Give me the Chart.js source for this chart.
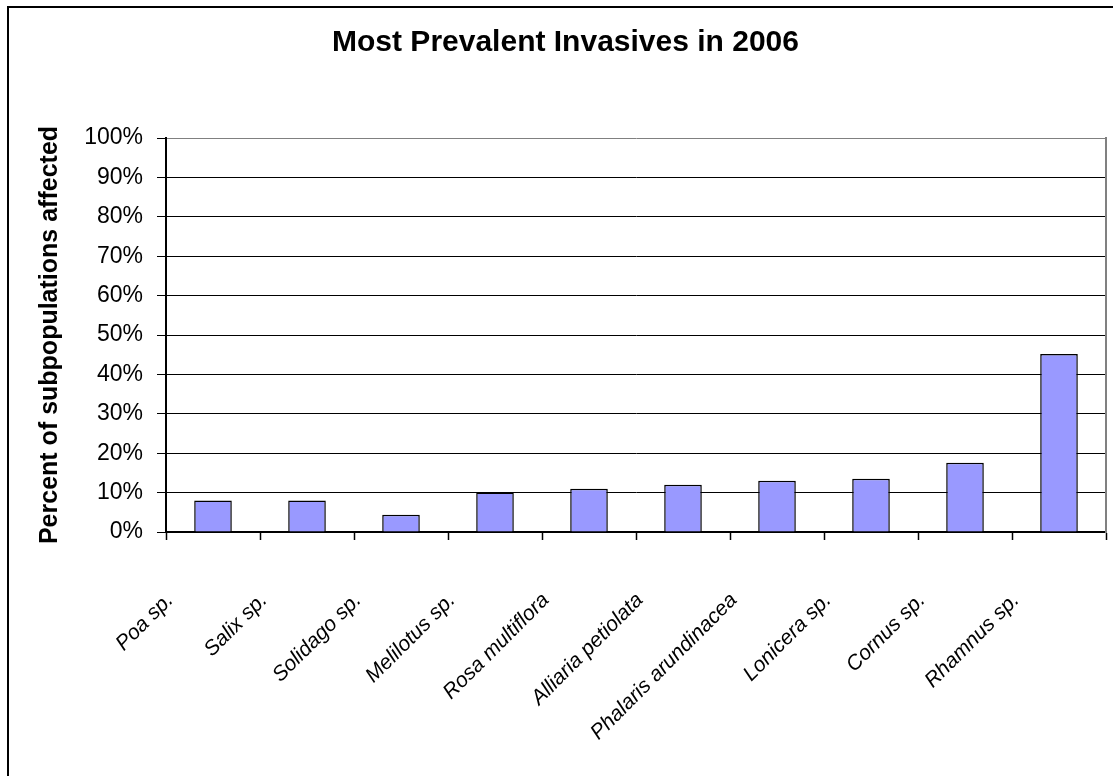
<!DOCTYPE html>
<html>
<head>
<meta charset="utf-8">
<title>Most Prevalent Invasives in 2006</title>
<script src="https://cdn.jsdelivr.net/npm/chart.js@4/dist/chart.umd.min.js"></script>
<style>
  html, body { margin: 0; padding: 0; background: #fff; }
  #wrap { width: 1113px; height: 776px; }
</style>
</head>
<body>
<div id="wrap"><canvas id="chart" width="1113" height="776"></canvas></div>
<script>
// Species most often recorded as invasive across subpopulations, 2006
const species = [
  'Poa sp.', 'Salix sp.', 'Solidago sp.', 'Melilotus sp.', 'Rosa multiflora',
  'Alliaria petiolata', 'Phalaris arundinacea', 'Lonicera sp.', 'Cornus sp.', 'Rhamnus sp.'
];
// Percent of subpopulations affected
const percentAffected = [8.0, 8.0, 4.4, 10.0, 11.0, 12.0, 13.0, 13.5, 17.6, 45.2];
// Value axis
const yMin = 0;
const yMax = 100;
const yStep = 10;

const FONT = "'Liberation Sans', Arial, Helvetica, sans-serif";
Chart.defaults.color = '#000';
Chart.defaults.font.family = FONT;

// Frame line along the top and left edges of the chart
const framePlugin = {
  id: 'frame',
  afterDraw(chart) {
    const ctx = chart.ctx;
    ctx.save();
    ctx.strokeStyle = '#000';
    ctx.lineWidth = 2;
    ctx.beginPath();
    ctx.moveTo(8, chart.height + 5);
    ctx.lineTo(8, 7);
    ctx.lineTo(chart.width + 5, 7);
    ctx.stroke();
    ctx.restore();
  }
};

new Chart(document.getElementById('chart'), {
  type: 'bar',
  data: {
    labels: species,
    datasets: [{
      data: percentAffected,
      backgroundColor: '#9999FF',
      borderColor: '#000',
      borderWidth: 1.5,
      barPercentage: 0.4,
      categoryPercentage: 1.0
    }]
  },
  options: {
    responsive: false,
    animation: false,
    events: [],
    layout: { padding: { left: 25, right: 7, top: 0, bottom: 0 } },
    plugins: {
      legend: { display: false },
      tooltip: { enabled: false },
      title: {
        display: true,
        text: 'Most Prevalent Invasives in 2006',
        color: '#000',
        font: { family: FONT, size: 30, weight: 'bold' },
        padding: { top: 25, bottom: 77 }
      }
    },
    scales: {
      x: {
        offset: true,
        grid: {
          offset: true,
          drawOnChartArea: false,
          drawTicks: true,
          tickLength: 8,
          tickWidth: 1.5,
          tickColor: '#000'
        },
        border: { display: true, color: '#000', width: 2 },
        ticks: {
          autoSkip: false,
          minRotation: 45,
          maxRotation: 45,
          labelOffset: -43,
          padding: 48,
          color: '#000',
          font: { family: FONT, size: 21, style: 'italic' }
        },
        afterFit(scale) {
          scale.height = 244;
          scale.paddingLeft = 0;
          scale.paddingRight = 0;
        }
      },
      y: {
        min: yMin,
        max: yMax,
        grid: {
          color: (c) => (c.tick && c.tick.value === yMax ? '#808080' : '#000'),
          lineWidth: 1,
          tickColor: '#000',
          tickLength: 9,
          drawTicks: true
        },
        border: { display: true, color: '#000', width: 2 },
        ticks: {
          stepSize: yStep,
          padding: 14,
          color: '#000',
          font: { family: FONT, size: 23 },
          callback: (v) => v + '%'
        },
        title: {
          display: true,
          text: 'Percent of subpopulations affected',
          color: '#000',
          font: { family: FONT, size: 25, weight: 'bold' },
          padding: { top: 10, bottom: 0 }
        },
        afterFit(scale) { scale.width = 141; }
      },
      yRight: {
        position: 'right',
        min: yMin,
        max: yMax,
        grid: { drawOnChartArea: false, drawTicks: false },
        border: { display: true, color: '#808080', width: 2 },
        ticks: { display: false },
        afterFit(scale) {
          scale.width = 0;
          scale.paddingTop = 0;
          scale.paddingBottom = 0;
        }
      }
    }
  },
  plugins: [framePlugin]
});
</script>
</body>
</html>
